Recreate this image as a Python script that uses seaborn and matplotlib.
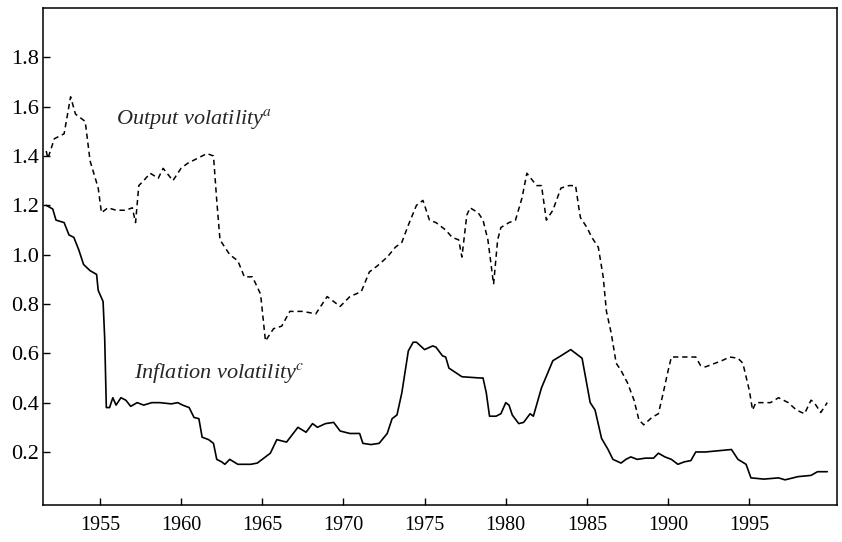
import numpy as np
import pandas as pd
import seaborn as sns
import matplotlib.pyplot as plt

sns.set_style("ticks")
plt.rcParams["font.family"] = ["Liberation Serif", "DejaVu Serif"]
plt.rcParams["mathtext.fontset"] = "stix"

# ===================== DATA =====================
output_years = [1951.7, 1951.8, 1952.2, 1952.8, 1953.2, 1953.5, 1954.1, 1954.4, 1954.9,
                1955.1, 1955.5, 1956.0, 1956.6, 1957.0, 1957.2, 1957.4, 1957.7, 1958.1,
                1958.6, 1958.9, 1959.5, 1960.0, 1960.4, 1961.0, 1961.6, 1962.0, 1962.2,
                1962.4, 1963.0, 1963.5, 1963.9, 1964.4, 1964.9, 1965.2, 1965.7, 1966.2,
                1966.7, 1967.5, 1968.3, 1969.0, 1969.8, 1970.4, 1971.1, 1971.6, 1972.1,
                1972.7, 1973.2, 1973.6, 1974.0, 1974.5, 1974.9, 1975.3, 1975.7, 1976.3,
                1976.7, 1977.1, 1977.3, 1977.6, 1977.8, 1978.3, 1978.6, 1978.9, 1979.25,
                1979.5, 1979.7, 1980.2, 1980.6, 1981.0, 1981.3, 1981.9, 1982.2, 1982.5,
                1982.9, 1983.4, 1983.9, 1984.3, 1984.5, 1984.6, 1985.0, 1985.3, 1985.7,
                1985.9, 1986.0, 1986.2, 1986.5, 1986.8, 1987.1, 1987.5, 1987.9, 1988.2,
                1988.5, 1989.0, 1989.4, 1989.7, 1990.0, 1990.2, 1990.8, 1991.7, 1992.0,
                1992.3, 1992.9, 1993.3, 1993.8, 1994.3, 1994.6, 1995.0, 1995.2, 1995.4,
                1995.8, 1996.3, 1996.8, 1997.4, 1997.9, 1998.4, 1998.8, 1999.0, 1999.4,
                1999.8]
output_vol = [1.42, 1.39, 1.47, 1.49, 1.64, 1.57, 1.54, 1.38, 1.27,
              1.17, 1.19, 1.18, 1.18, 1.19, 1.13, 1.28, 1.30, 1.33,
              1.31, 1.35, 1.30, 1.35, 1.37, 1.39, 1.41, 1.40, 1.22,
              1.06, 1.00, 0.975, 0.91, 0.91, 0.84, 0.65, 0.70, 0.71,
              0.77, 0.77, 0.76, 0.83, 0.79, 0.83, 0.85, 0.93, 0.955,
              0.99, 1.03, 1.05, 1.12, 1.20, 1.22, 1.14, 1.13, 1.10,
              1.07, 1.06, 0.99, 1.16, 1.19, 1.17, 1.14, 1.06, 0.88,
              1.06, 1.11, 1.13, 1.14, 1.23, 1.33, 1.28, 1.28, 1.14,
              1.18, 1.27, 1.28, 1.28, 1.19, 1.15, 1.11, 1.07, 1.03,
              0.95, 0.91, 0.77, 0.68, 0.56, 0.53, 0.48, 0.41, 0.33,
              0.31, 0.34, 0.355, 0.44, 0.53, 0.585, 0.585, 0.585, 0.55,
              0.545, 0.56, 0.57, 0.585, 0.58, 0.56, 0.45, 0.37, 0.40,
              0.40, 0.40, 0.42, 0.40, 0.37, 0.355, 0.41, 0.40, 0.36,
              0.40]

inflation_years = [1951.7, 1952.1, 1952.3, 1952.8, 1953.1, 1953.4, 1953.7, 1954.0, 1954.4,
                   1954.8, 1954.9, 1955.2, 1955.3, 1955.4, 1955.6, 1955.8, 1956.0, 1956.3,
                   1956.6, 1956.9, 1957.3, 1957.7, 1958.2, 1958.7, 1959.4, 1959.8, 1960.1,
                   1960.5, 1960.8, 1961.1, 1961.3, 1961.7, 1962.0, 1962.2, 1962.5, 1962.7,
                   1963.0, 1963.5, 1964.3, 1964.7, 1965.1, 1965.5, 1965.9, 1966.5, 1967.2,
                   1967.7, 1968.1, 1968.4, 1968.9, 1969.4, 1969.8, 1970.4, 1971.0, 1971.2,
                   1971.7, 1972.2, 1972.7, 1973.0, 1973.3, 1973.6, 1974.0, 1974.3, 1974.5,
                   1975.0, 1975.5, 1975.7, 1976.1, 1976.3, 1976.5, 1977.3, 1978.4, 1978.6,
                   1978.8, 1979.0, 1979.4, 1979.7, 1980.0, 1980.2, 1980.4, 1980.8, 1981.1,
                   1981.5, 1981.7, 1982.2, 1982.9, 1983.4, 1984.0, 1984.7, 1985.2, 1985.5,
                   1985.9, 1986.3, 1986.6, 1987.1, 1987.4, 1987.7, 1988.1, 1988.6, 1989.1,
                   1989.4, 1989.8, 1990.2, 1990.6, 1991.0, 1991.4, 1991.7, 1992.3, 1993.1,
                   1993.9, 1994.3, 1994.8, 1995.1, 1995.9, 1996.8, 1997.2, 1998.0, 1998.8,
                   1999.2, 1999.8]
inflation_vol = [1.20, 1.185, 1.14, 1.13, 1.08, 1.07, 1.02, 0.96, 0.935,
                 0.92, 0.855, 0.81, 0.66, 0.38, 0.38, 0.42, 0.39, 0.42,
                 0.41, 0.385, 0.40, 0.39, 0.40, 0.40, 0.395, 0.40, 0.39,
                 0.38, 0.34, 0.335, 0.26, 0.25, 0.235, 0.17, 0.16, 0.15,
                 0.17, 0.15, 0.15, 0.155, 0.175, 0.195, 0.25, 0.24, 0.30,
                 0.28, 0.315, 0.30, 0.315, 0.32, 0.285, 0.275, 0.275, 0.235,
                 0.23, 0.235, 0.275, 0.335, 0.35, 0.44, 0.61, 0.645, 0.645,
                 0.615, 0.63, 0.625, 0.59, 0.585, 0.54, 0.505, 0.50, 0.50,
                 0.44, 0.345, 0.345, 0.355, 0.40, 0.39, 0.35, 0.315, 0.32,
                 0.355, 0.345, 0.46, 0.57, 0.59, 0.615, 0.58, 0.40, 0.37,
                 0.255, 0.21, 0.17, 0.155, 0.17, 0.18, 0.17, 0.175, 0.175,
                 0.195, 0.18, 0.17, 0.15, 0.16, 0.165, 0.20, 0.20, 0.205,
                 0.21, 0.17, 0.15, 0.095, 0.09, 0.095, 0.087, 0.10, 0.105,
                 0.12, 0.12]

x_ticks = [1955, 1960, 1965, 1970, 1975, 1980, 1985, 1990, 1995]
y_ticks = [0.2, 0.4, 0.6, 0.8, 1.0, 1.2, 1.4, 1.6, 1.8]

out_df = pd.DataFrame({"year": output_years, "vol": output_vol})
inf_df = pd.DataFrame({"year": inflation_years, "vol": inflation_vol})

# ===================== PLOT =====================
fig = plt.figure(figsize=(8.42, 5.42), dpi=100)
ax = fig.add_axes([43 / 842, 37 / 542, 794 / 842, 497 / 542])

sns.lineplot(data=out_df, x="year", y="vol", ax=ax, color="black",
             linewidth=1.1, linestyle=(0, (3.5, 2.5)))
sns.lineplot(data=inf_df, x="year", y="vol", ax=ax, color="black", linewidth=1.2)

ax.set_xlim(1951.5, 2000.4)
ax.set_ylim(-0.015, 2.0)
ax.set_xticks(x_ticks)
ax.set_yticks(y_ticks)
ax.set_yticklabels([f"{v:.1f}" for v in y_ticks])
ax.tick_params(direction="in", length=5, width=1, labelsize=14.5, colors="black")
ax.tick_params(axis="x", pad=8)
ax.tick_params(axis="y", labelsize=16, pad=3)
ax.set_xlabel("")
ax.set_ylabel("")
for s in ax.spines.values():
    s.set_visible(True)
    s.set_linewidth(1.1)
    s.set_color("black")

ax.text(1956.0, 1.55, r"Output volatility$^{a}$", fontsize=16,
        style="italic", va="center", ha="left")
ax.text(1957.1, 0.52, r"Inflation volatility$^{c}$", fontsize=16,
        style="italic", va="center", ha="left")

fig.savefig("out.png", dpi=100)
